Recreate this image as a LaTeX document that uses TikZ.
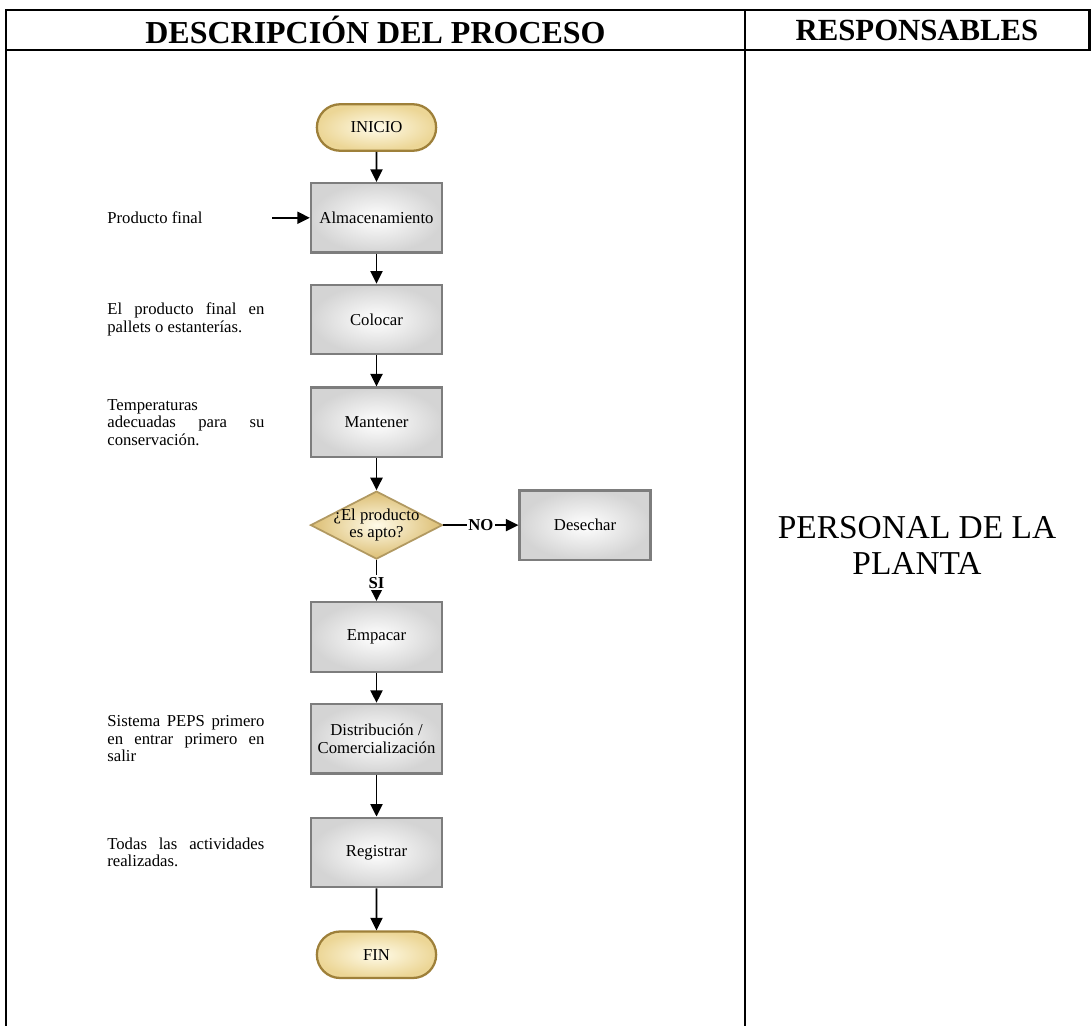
\documentclass[tikz,border=0pt]{standalone}
\usepackage{fontspec}
\setmainfont{Liberation Serif}
\usetikzlibrary{arrows.meta,positioning,shapes.geometric,shapes.misc,shadows}
\definecolor{frame}{RGB}{125,125,125}
\definecolor{boxout}{RGB}{212,212,212}
\definecolor{gold}{RGB}{158,128,58}
\definecolor{cream}{RGB}{255,251,232}
\definecolor{sand}{RGB}{236,214,150}
\definecolor{tan}{RGB}{220,190,115}
\newcommand{\boxfont}{\fontsize{9.5}{10}\selectfont}
\tikzset{
  arr/.style={-{Triangle[length=2.5mm,width=2.4mm]},line width=1.1pt,draw=black},
  rule/.style={line width=1.7pt,line cap=square},
  proc/.style={rectangle,draw=frame,line width=1.3pt,inner color=white,outer color=boxout,
    minimum width=2.62cm,minimum height=1.39cm,align=center,font=\boxfont,
    drop shadow={opacity=0.25,shadow xshift=0.4pt,shadow yshift=-0.6pt}},
  term/.style={rounded rectangle,draw=gold,line width=1.3pt,inner color=cream,outer color=sand,
    minimum width=2.62cm,minimum height=0.93cm,font=\boxfont},
  ask/.style={diamond,aspect=1.9,draw=gold!80,line width=1pt,inner color=cream,outer color=tan,
    minimum width=2.64cm,minimum height=1.36cm,inner sep=0pt},
  asktext/.style={align=center,font=\boxfont},
  note/.style={anchor=west,text width=3.14cm,align=justify,inner sep=0pt,font=\boxfont},
  tag/.style={fill=white,inner sep=1pt,font=\boxfont\bfseries},
  head/.style={font=\fontsize{17.5}{20}\selectfont\bfseries}
}

\begin{document}
\begin{tikzpicture}[node distance=6mm]
  \useasboundingbox (0,0) rectangle (21.84,-20.52);
  % table frame
  \draw[rule] (0.12,-20.6) -- (0.12,-0.2) -- (21.78,-0.2) -- (21.78,-1.0) -- (0.12,-1.0);
  \draw[rule] (14.9,-0.2) -- (14.9,-20.6);
  \node[head,font=\fontsize{18.2}{20}\selectfont\bfseries] (hdesc) at (7.51,-0.6) {DESCRIPCIÓN DEL PROCESO};
  \node[head] (hresp) at (18.34,-0.6) {RESPONSABLES};
  \node[font=\fontsize{19}{20.5}\selectfont,align=center] (staff) at (18.34,-10.9) {PERSONAL DE LA\\PLANTA};

  % flow
  \node[term] (ini) at (7.53,-2.55) {INICIO};
  \node[proc,below=of ini] (alm) {Almacenamiento};
  \node[proc,below=of alm] (col) {Colocar};
  \node[proc,below=6.2mm of col] (man) {Mantener};
  \node[ask,below=6.4mm of man,label={[asktext]center:{¿El producto\\es apto?}}] (apto) {};
  \node[proc,right=1.5cm of apto] (des) {Desechar};
  \node[proc,below=8.2mm of apto] (emp) {Empacar};
  \node[proc,below=of emp] (dis) {Distribución /\\Comercialización};
  \node[proc,below=8.4mm of dis] (reg) {Registrar};
  \node[term,below=8.4mm of reg] (fin) {FIN};

  \draw[arr] (ini) -- (alm);
  \draw[arr] (alm) -- (col);
  \draw[arr] (col) -- (man);
  \draw[arr] (man) -- (apto);
  \draw[arr] (apto) -- node[tag] {NO} (des);
  \draw[arr] (apto) -- node[tag,pos=0.55] {SI} (emp);
  \draw[arr] (emp) -- (dis);
  \draw[arr] (dis) -- (reg);
  \draw[arr] (reg) -- (fin);

  % side notes
  \coordinate (margin) at (2.14,0);
  \coordinate (pf-in) at (5.44,0 |- alm);
  \node[note] (n-alm) at (margin |- alm) {Producto final};
  \draw[arr] (pf-in) -- (alm);
  \node[note] (n-col) at (margin |- col) {El producto final en\linebreak pallets o estanterías.};
  \node[note] (n-man) at (margin |- man) {Temperaturas\\adecuadas para su\linebreak conservación.};
  \node[note] (n-dis) at (margin |- dis) {Sistema PEPS primero\linebreak en entrar primero en\linebreak salir};
  \node[note] (n-reg) at (margin |- reg) {Todas las actividades\linebreak realizadas.};
\end{tikzpicture}
\end{document}
